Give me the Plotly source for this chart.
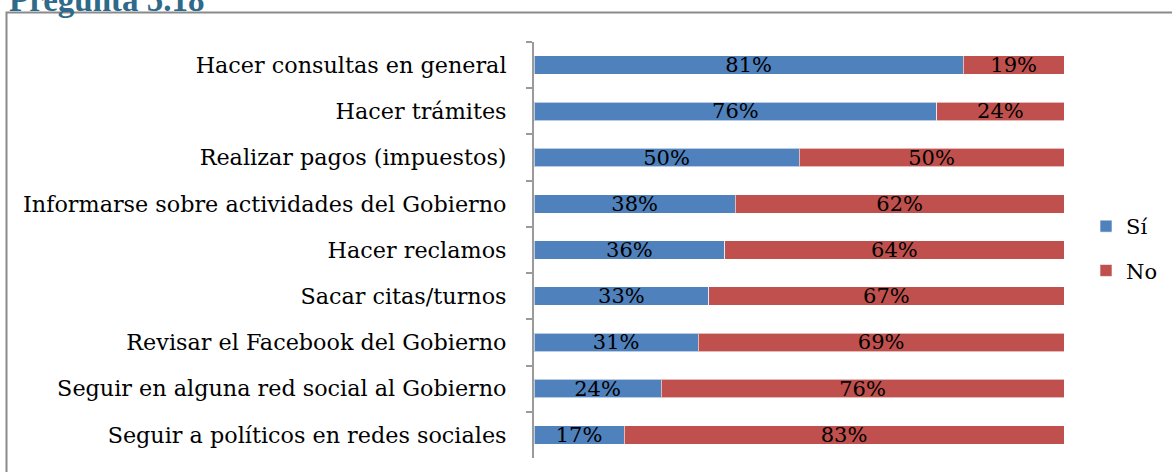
import plotly.graph_objects as go

categories = [
    "Hacer consultas en general",
    "Hacer trámites",
    "Realizar pagos (impuestos)",
    "Informarse sobre actividades del Gobierno",
    "Hacer reclamos",
    "Sacar citas/turnos",
    "Revisar el Facebook del Gobierno",
    "Seguir en alguna red social al Gobierno",
    "Seguir a políticos en redes sociales",
]
si_values = [81, 76, 50, 38, 36, 33, 31, 24, 17]
no_values = [19, 24, 50, 62, 64, 67, 69, 76, 83]

FONT = "DejaVu Serif"
W, H = 1172, 472
L, R, T, B = 534, 108, 42, 14
pw, ph = W - L - R, H - T - B


def px_x(x):
    return (x - L) / pw


def px_y(y):
    return (H - B - y) / ph


fig = go.Figure()
for name, vals, color in [("Sí", si_values, "#4F81BD"), ("No", no_values, "#C0504D")]:
    fig.add_trace(go.Bar(
        y=categories, x=vals, name=name, orientation="h", legendgroup=name,
        marker=dict(color=color, line=dict(color="rgba(255,255,255,0.6)", width=1)),
        text=[f"{v}%" for v in vals], textposition="inside",
        insidetextanchor="middle", constraintext="none",
        textfont=dict(family=FONT, size=21, color="black"),
        width=0.4,
    ))

fig.update_layout(
    width=W, height=H, barmode="stack",
    margin=dict(l=L, r=R, t=T, b=B, pad=0, autoexpand=False),
    paper_bgcolor="white", plot_bgcolor="white",
    font=dict(family=FONT, size=22.3, color="black"),
    xaxis=dict(range=[0, 100], visible=False, fixedrange=True),
    yaxis=dict(
        autorange="reversed", showline=True, linecolor="#9a9a9a", linewidth=2,
        ticks="outside", tickson="boundaries", ticklen=6, tickcolor="#9a9a9a",
        tickwidth=2, showgrid=False, ticklabelstandoff=21, automargin=False,
        tickfont=dict(family=FONT, size=22.3, color="black"),
    ),
    legend=dict(
        x=px_x(1086), y=px_y(206), xanchor="left", yanchor="top",
        font=dict(family=FONT, size=21, color="black"),
        tracegroupgap=14, traceorder="grouped", itemwidth=30,
    ),
    showlegend=True,
)

# chart frame (left and top edges visible)
fig.add_shape(type="rect", xref="paper", yref="paper",
              x0=px_x(6.5), x1=px_x(1190), y0=px_y(490), y1=px_y(12.5),
              line=dict(color="#8a8a8a", width=2), fillcolor="rgba(0,0,0,0)", layer="below")

fig.add_annotation(text="<b>Pregunta 5.18</b>", xref="paper", yref="paper",
                   x=px_x(8), y=px_y(19), xanchor="left", yanchor="bottom",
                   borderpad=0, showarrow=False,
                   font=dict(family="Liberation Serif", size=33, color="#2E6A89"))

fig.write_html("out.html")
